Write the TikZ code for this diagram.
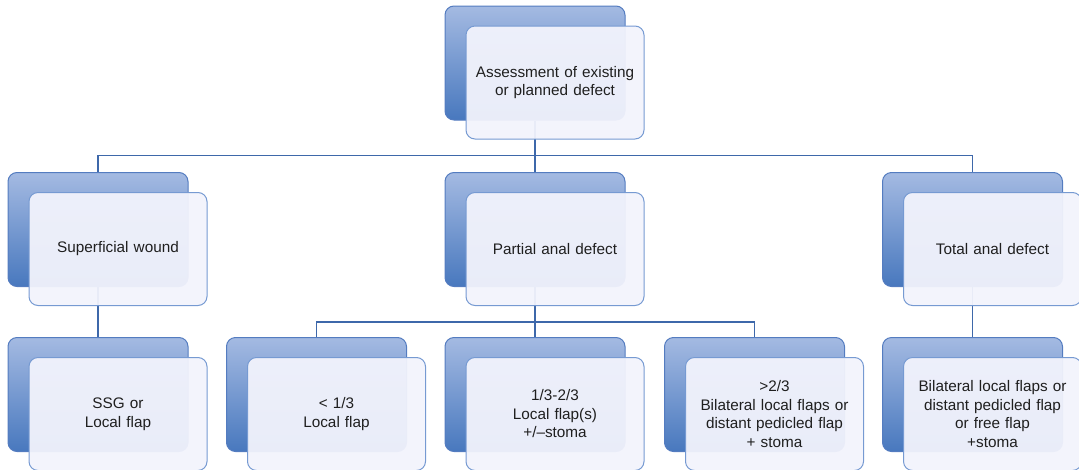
\documentclass[tikz,border=0pt]{standalone}
\usepackage{fontspec}
\setmainfont{Liberation Sans}
\usepackage{tikz}
\usetikzlibrary{shapes}
\definecolor{boxtop}{RGB}{164,186,226}
\definecolor{boxbot}{RGB}{72,120,190}
\definecolor{boxline}{RGB}{84,124,192}
\definecolor{frontline}{RGB}{118,154,210}
\definecolor{frontfill}{RGB}{242,243,252}
\definecolor{linkcol}{RGB}{62,104,170}
\tikzstyle{back}=[rectangle, rounded corners=9pt, inner sep=0pt, minimum width=180pt, minimum height=114pt, draw=boxline, line width=1pt, top color=boxtop, bottom color=boxbot]
\tikzstyle{front}=[rectangle, rounded corners=9pt, inner sep=0pt, minimum width=178pt, minimum height=113pt, draw=frontline, line width=1pt, fill=frontfill, fill opacity=.95, text opacity=1, text width=170pt, align=center, text=black!88, font=\fontsize{15.3}{18.5}\selectfont]
\tikzstyle{link}=[draw=linkcol, line width=1.15pt]

\begin{document}
\begin{tikzpicture}[x=1pt, y=-1pt]
    \useasboundingbox (0,0) rectangle (1079,469);

    % shaded boxes behind
    \foreach \name/\x/\y in {asses/535/63, superf/98/229.5, partial/535/229.5, total/972.5/229.5,
        ssg/98/394.5, third/316.5/394.5, mid/535/394.5, twothird/754.5/394.5, bilat/972.5/394.5}{
      \node[back] (\name) at (\x,\y) {};
    }

    \draw[link] (asses.south) -- ++(0,35) -| (superf.north);
    \draw[link] (asses.south) -- ++(0,35) -| (total.north);
    \draw[link] (asses.south) -- (partial.north);
    \draw[link] (superf.south) -- (ssg.north);
    \draw[link] (total.south) -- (bilat.north);
    \draw[link] (partial.south) -- ++(0,35) -| (third.north);
    \draw[link] (partial.south) -- ++(0,35) -| (twothird.north);
    \draw[link] (partial.south) -- (mid.north);

    % text boxes on top
    \foreach \name/\txt in {asses/{Assessment of existing\\or planned defect}, superf/{Superficial wound},
        partial/{Partial anal defect}, total/{Total anal defect}, ssg/{SSG or\\Local flap},
        third/{< 1/3\\Local flap}, mid/{1/3-2/3\\Local flap(s)\\+/--stoma},
        twothird/{>2/3\\Bilateral local flaps or\\distant pedicled flap\\+ stoma},
        bilat/{Bilateral local flaps or\\distant pedicled flap\\or free flap\\+stoma}}{
      \node[front] (\name-f) at ([shift={(20pt,-19.5pt)}]\name.center) {\txt};
    }
\end{tikzpicture}
\end{document}
